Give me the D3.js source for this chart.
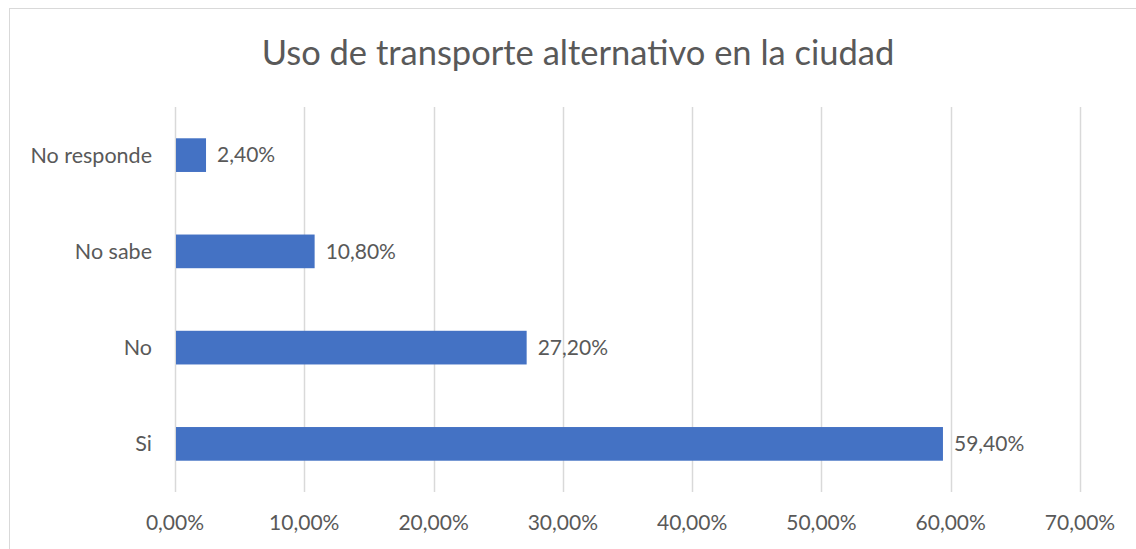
<!DOCTYPE html>
<html>
<head>
<meta charset="utf-8">
<script src="https://cdn.jsdelivr.net/npm/d3@7"></script>
<style>
  body { margin: 0; background: #fff; }
  text { font-family: Lato, "Open Sans", sans-serif; fill: #595959; }
</style>
</head>
<body>
<script>
var categories = ['No responde', 'No sabe', 'No', 'Si'];
var values = [2.4, 10.8, 27.2, 59.4];
var ticks = [0, 10, 20, 30, 40, 50, 60, 70];

var width = 1136, height = 549;
var fmt = function(v){ return v.toFixed(2).replace('.', ',') + '%'; };

var svg = d3.select('body').append('svg')
    .attr('width', width)
    .attr('height', height);

// chart frame
svg.append('rect')
    .attr('x', 9.5).attr('y', 8.5)
    .attr('width', width + 20).attr('height', height + 20)
    .attr('fill', '#fff')
    .attr('stroke', '#d9d9d9');

svg.append('text')
    .attr('x', 578)
    .attr('y', 65)
    .attr('text-anchor', 'middle')
    .style('font-size', '34.5px')
    .text('Uso de transporte alternativo en la ciudad');

var x = d3.scaleLinear().domain([0, 70]).range([175, 1080]);
var y = d3.scaleBand().domain(categories).range([107, 492]).paddingInner(0.65).paddingOuter(0.325);

// grid
svg.selectAll('.grid')
    .data(ticks)
    .enter().append('line')
    .attr('class', 'grid')
    .attr('x1', function(d){ return Math.round(x(d)) + 0.5; })
    .attr('x2', function(d){ return Math.round(x(d)) + 0.5; })
    .attr('y1', 107).attr('y2', 492)
    .attr('stroke', '#d9d9d9')
    .attr('stroke-width', 1.5);

svg.selectAll('.tick-label')
    .data(ticks)
    .enter().append('text')
    .attr('x', function(d){ return x(d); })
    .attr('y', 530)
    .attr('text-anchor', 'middle')
    .style('font-size', '21px')
    .text(fmt);

svg.selectAll('.bar')
    .data(values)
    .enter().append('rect')
    .attr('x', x(0) + 1)
    .attr('y', function(d, i){ return y(categories[i]); })
    .attr('width', function(d){ return x(d) - x(0) - 1; })
    .attr('height', y.bandwidth())
    .attr('fill', '#4472c4');

svg.selectAll('.cat')
    .data(categories)
    .enter().append('text')
    .attr('x', 152)
    .attr('y', function(d){ return y(d) + y.bandwidth() / 2; })
    .attr('dy', '0.35em')
    .attr('text-anchor', 'end')
    .style('font-size', '21.5px')
    .text(function(d){ return d; });

svg.selectAll('.val')
    .data(values)
    .enter().append('text')
    .attr('x', function(d){ return x(d) + 11; })
    .attr('y', function(d, i){ return y(categories[i]) + y.bandwidth() / 2; })
    .attr('dy', '0.35em')
    .style('font-size', '21px')
    .text(fmt);
</script>
</body>
</html>
